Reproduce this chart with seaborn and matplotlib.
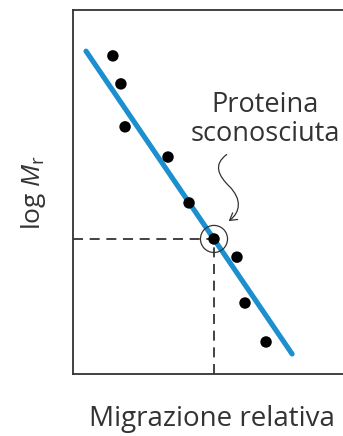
import numpy as np
import pandas as pd
import seaborn as sns
import matplotlib.pyplot as plt
from matplotlib.path import Path
from matplotlib.patches import FancyArrowPatch

# Proteine standard: migrazione relativa e log Mr
migrazione = [0.144, 0.173, 0.188, 0.343, 0.419, 0.592, 0.621, 0.697]
log_mr = [0.874, 0.797, 0.679, 0.596, 0.470, 0.321, 0.195, 0.088]

# Proteina sconosciuta
ignota_x = [0.509]
ignota_y = [0.371]

# Retta di calibrazione (estremi)
retta_x = [0.047, 0.791]
retta_y = [0.887, 0.055]

sns.set_style("white")
plt.rcParams['font.family'] = ['Open Sans', 'DejaVu Sans']
plt.rcParams['mathtext.fontset'] = 'custom'
plt.rcParams['mathtext.rm'] = 'Open Sans'
plt.rcParams['mathtext.it'] = 'Open Sans:italic'

fig = plt.figure(figsize=(3.43, 4.36), dpi=100)
ax = fig.add_axes([73 / 343, 62 / 436, 277 / 343, 364 / 436])

punti = pd.DataFrame({'x': migrazione, 'y': log_mr})
retta = pd.DataFrame({'x': retta_x, 'y': retta_y})
ignota = pd.DataFrame({'x': ignota_x, 'y': ignota_y})

# linee tratteggiate verso gli assi
ax.plot([0, ignota_x[0]], [ignota_y[0], ignota_y[0]], color='#222222', lw=1.2,
        dashes=(6, 4), zorder=1)
ax.plot([ignota_x[0], ignota_x[0]], [0, ignota_y[0]], color='#222222', lw=1.2,
        dashes=(6, 4), zorder=1)

sns.lineplot(data=retta, x='x', y='y', color='#1c8fcf', lw=3.7, ax=ax, zorder=2)
sns.scatterplot(data=punti, x='x', y='y', color='black', s=68, edgecolor='none',
                ax=ax, zorder=3)
sns.scatterplot(data=ignota, x='x', y='y', color='black', s=68, edgecolor='none',
                ax=ax, zorder=3)
# cerchio intorno alla proteina sconosciuta
ax.scatter(ignota_x, ignota_y, s=380, facecolors='none', edgecolors='#333333',
           linewidths=0.9, zorder=4)

ax.text(0.693, 0.698, 'Proteina\nsconosciuta', ha='center', va='center',
        fontsize=19.5, color='#333333', linespacing=1.05)

# freccia ondulata
verts = [(0.555, 0.603), (0.505, 0.575), (0.525, 0.545), (0.565, 0.515),
         (0.610, 0.480), (0.605, 0.445), (0.562, 0.420)]
codes = [Path.MOVETO] + [Path.CURVE4] * 6
freccia = FancyArrowPatch(path=Path(verts, codes), arrowstyle='->,head_length=5,head_width=3',
                          color='#333333', lw=0.9, transform=ax.transData)
ax.add_patch(freccia)

ax.set_xlim(0, 1)
ax.set_ylim(0, 1)
ax.set_xticks([])
ax.set_yticks([])
ax.set_xlabel('Migrazione relativa', fontsize=20, color='#333333', labelpad=22)
ax.set_ylabel(r'log $\mathit{M}_\mathrm{r}$', fontsize=19, color='#333333', labelpad=18)
for s in ax.spines.values():
    s.set_color('#333333')
    s.set_linewidth(1.3)

plt.savefig('out.png', dpi=100)
